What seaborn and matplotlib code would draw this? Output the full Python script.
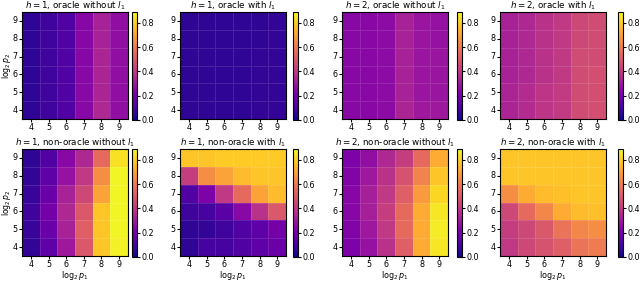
import numpy as np
import pandas as pd
import matplotlib
matplotlib.use('Agg')
import matplotlib.pyplot as plt
import seaborn as sns

# log2 p1 along x, log2 p2 along y (rows listed top -> bottom: 9 .. 4)
p1_ticks = [4, 5, 6, 7, 8, 9]
p2_ticks = [9, 8, 7, 6, 5, 4]

titles = [
    r'$h=1$, oracle without $l_1$',
    r'$h=1$, oracle with $l_1$',
    r'$h=2$, oracle without $l_1$',
    r'$h=2$, oracle with $l_1$',
    r'$h=1$, non-oracle without $l_1$',
    r'$h=1$, non-oracle with $l_1$',
    r'$h=2$, non-oracle without $l_1$',
    r'$h=2$, non-oracle with $l_1$',
]

h1_oracle_without = [
    [0.05, 0.08, 0.12, 0.24, 0.33, 0.27],
    [0.05, 0.08, 0.12, 0.24, 0.33, 0.27],
    [0.05, 0.08, 0.12, 0.24, 0.34, 0.27],
    [0.05, 0.08, 0.12, 0.25, 0.34, 0.27],
    [0.05, 0.08, 0.12, 0.25, 0.34, 0.27],
    [0.05, 0.08, 0.12, 0.25, 0.35, 0.27],
]
h1_oracle_with = [
    [0.05, 0.05, 0.05, 0.05, 0.05, 0.06],
    [0.05, 0.05, 0.05, 0.05, 0.05, 0.06],
    [0.05, 0.05, 0.05, 0.05, 0.06, 0.06],
    [0.05, 0.05, 0.05, 0.05, 0.06, 0.06],
    [0.05, 0.05, 0.05, 0.05, 0.06, 0.06],
    [0.05, 0.05, 0.05, 0.05, 0.06, 0.06],
]
h2_oracle_without = [
    [0.25, 0.25, 0.26, 0.33, 0.29, 0.28],
    [0.25, 0.25, 0.26, 0.33, 0.29, 0.28],
    [0.25, 0.25, 0.26, 0.33, 0.29, 0.29],
    [0.25, 0.25, 0.26, 0.33, 0.29, 0.29],
    [0.25, 0.25, 0.26, 0.33, 0.29, 0.29],
    [0.25, 0.25, 0.26, 0.34, 0.30, 0.30],
]
h2_oracle_with = [
    [0.33, 0.35, 0.38, 0.40, 0.45, 0.46],
    [0.33, 0.35, 0.38, 0.40, 0.45, 0.46],
    [0.33, 0.35, 0.38, 0.40, 0.46, 0.46],
    [0.33, 0.35, 0.38, 0.40, 0.46, 0.47],
    [0.34, 0.36, 0.39, 0.41, 0.46, 0.47],
    [0.34, 0.36, 0.39, 0.41, 0.46, 0.47],
]
h1_nonoracle_without = [
    [0.05, 0.12, 0.25, 0.35, 0.55, 0.84],
    [0.06, 0.15, 0.28, 0.40, 0.65, 0.88],
    [0.07, 0.18, 0.33, 0.45, 0.70, 0.88],
    [0.08, 0.20, 0.35, 0.50, 0.78, 0.88],
    [0.07, 0.18, 0.33, 0.52, 0.78, 0.88],
    [0.06, 0.15, 0.30, 0.50, 0.78, 0.87],
]
h1_nonoracle_with = [
    [0.78, 0.78, 0.79, 0.79, 0.79, 0.79],
    [0.42, 0.65, 0.70, 0.76, 0.78, 0.78],
    [0.12, 0.22, 0.40, 0.55, 0.70, 0.76],
    [0.08, 0.10, 0.14, 0.25, 0.38, 0.50],
    [0.05, 0.06, 0.08, 0.12, 0.15, 0.20],
    [0.05, 0.10, 0.10, 0.12, 0.15, 0.18],
]
h2_nonoracle_without = [
    [0.22, 0.27, 0.35, 0.42, 0.55, 0.72],
    [0.23, 0.30, 0.38, 0.48, 0.62, 0.78],
    [0.24, 0.32, 0.40, 0.52, 0.68, 0.82],
    [0.24, 0.32, 0.42, 0.55, 0.72, 0.85],
    [0.23, 0.30, 0.40, 0.55, 0.72, 0.86],
    [0.22, 0.28, 0.38, 0.52, 0.72, 0.85],
]
h2_nonoracle_with = [
    [0.78, 0.78, 0.78, 0.78, 0.78, 0.78],
    [0.78, 0.78, 0.78, 0.78, 0.78, 0.78],
    [0.65, 0.72, 0.76, 0.77, 0.78, 0.78],
    [0.45, 0.55, 0.63, 0.72, 0.76, 0.77],
    [0.42, 0.45, 0.50, 0.58, 0.63, 0.65],
    [0.40, 0.45, 0.48, 0.52, 0.58, 0.60],
]

panels = [h1_oracle_without, h1_oracle_with, h2_oracle_without, h2_oracle_with,
          h1_nonoracle_without, h1_nonoracle_with, h2_nonoracle_without, h2_nonoracle_with]

fig = plt.figure(figsize=(6.4, 2.82), dpi=100)

lefts = [22, 180, 342, 500]
cbar_lefts = [132, 293, 457, 618]
tops = [12, 149]
W, H = 640.0, 282.0
hm_w, hm_h = 106, 107

for i, vals in enumerate(panels):
    r, c = divmod(i, 4)
    ax = fig.add_axes([lefts[c] / W, 1 - (tops[r] + hm_h) / H, hm_w / W, hm_h / H])
    cax = fig.add_axes([cbar_lefts[c] / W, 1 - (tops[r] + hm_h + 1) / H, 5 / W, (hm_h + 1) / H])
    df = pd.DataFrame(vals, index=p2_ticks, columns=p1_ticks)
    sns.heatmap(df, ax=ax, cbar_ax=cax, cmap='plasma', vmin=0, vmax=0.89,
                linewidths=0.4, linecolor=(1, 1, 1, 0.12),
                cbar_kws={'ticks': [0.0, 0.2, 0.4, 0.6, 0.8]})
    for s in ax.spines.values():
        s.set_visible(True)
        s.set_linewidth(0.8)
    ax.set_title(titles[i], fontsize=6.3, pad=1)
    ax.tick_params(labelsize=5.8, length=2, pad=1)
    ax.set_yticklabels(p2_ticks, rotation=0)
    ax.set_xticklabels(p1_ticks, rotation=0)
    ax.set_xlabel(r'$\log_2 p_1$' if r == 1 else '', fontsize=5.8, labelpad=0)
    ax.set_ylabel(r'$\log_2 p_2$' if c == 0 else '', fontsize=5.6)
    ax.yaxis.set_label_coords(-0.085, 0.5)
    cb = ax.collections[0].colorbar
    cb.outline.set_linewidth(0.8)
    cb.ax.tick_params(labelsize=5.8, length=2, pad=1)
    cb.ax.yaxis.set_major_formatter(matplotlib.ticker.FormatStrFormatter('%.1f'))

fig.savefig('out.png', dpi=100)
